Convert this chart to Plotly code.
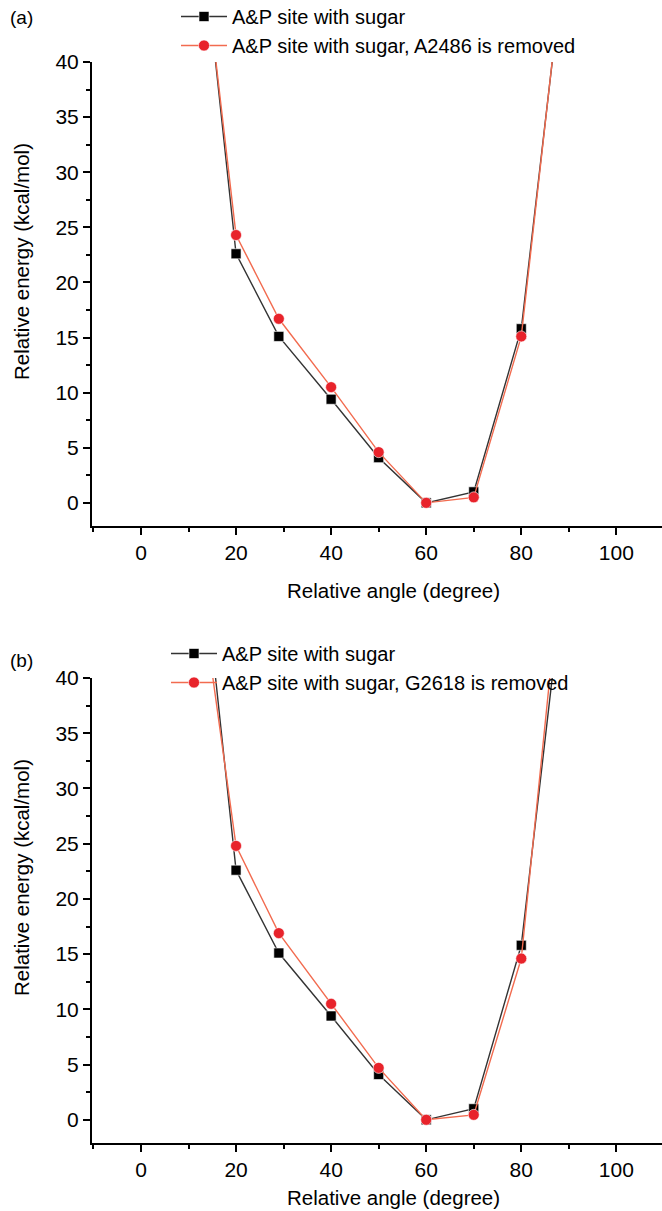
import plotly.graph_objects as go

# Relative angle (degree) of each scan point; the outer points lie above the 40 kcal/mol window
angle = [10, 20, 29, 40, 50, 60, 70, 80, 90]

# Relative energy (kcal/mol)
energy_sugar = [63.0, 22.6, 15.1, 9.4, 4.1, 0.0, 1.0, 15.8, 53.0]
energy_no_a2486 = [61.5, 24.3, 16.7, 10.5, 4.6, 0.0, 0.5, 15.1, 53.5]
energy_no_g2618 = [56.0, 24.8, 16.9, 10.5, 4.7, 0.0, 0.45, 14.6, 57.0]

name_sugar = "A&P site with sugar"
name_a = "A&P site with sugar, A2486 is removed"
name_b = "A&P site with sugar, G2618 is removed"

FONT = "Liberation Sans, Arial, sans-serif"
W, H = 662, 1211
BLACK_LINE = "#333333"
RED_LINE = "#f26b4f"
RED_MARK = "#e8232b"


def py(px):
    """Convert a pixel row (from the top) into paper coordinates."""
    return 1 - px / H


def px_x(px):
    return px / W


fig = go.Figure()

panels = [
    ("x", "y", "legend", energy_no_a2486, name_a),
    ("x2", "y2", "legend2", energy_no_g2618, name_b),
]
for xa, ya, leg, red_vals, red_name in panels:
    fig.add_trace(go.Scatter(
        x=angle, y=energy_sugar, name=name_sugar, xaxis=xa, yaxis=ya,
        legend=leg, mode="lines+markers",
        line=dict(color=BLACK_LINE, width=1.4),
        marker=dict(symbol="square", size=10, color="black",
                    line=dict(color="white", width=0.6)),
        cliponaxis=True,
    ))
    fig.add_trace(go.Scatter(
        x=angle, y=red_vals, name=red_name, xaxis=xa, yaxis=ya,
        legend=leg, mode="lines+markers",
        line=dict(color=RED_LINE, width=1.4),
        marker=dict(symbol="circle", size=11, color=RED_MARK,
                    line=dict(color="white", width=0.6)),
        cliponaxis=True,
    ))

axis_common = dict(
    showline=True, linecolor="black", linewidth=2,
    ticks="outside", ticklen=7, tickwidth=2, tickcolor="black",
    showgrid=False, zeroline=False, automargin=False,
    tickfont=dict(family=FONT, size=21, color="black"),
    fixedrange=True,
)
x_common = dict(axis_common, range=[-10.3, 109.6], tick0=0, dtick=20,
                minor=dict(ticks="outside", ticklen=4, tickwidth=2,
                           tickcolor="black", dtick=10, tick0=0))
y_common = dict(axis_common, range=[-2.1, 40], tick0=0, dtick=5,
                minor=dict(ticks="outside", ticklen=4, tickwidth=2,
                           tickcolor="black", dtick=2.5, tick0=0))

legend_common = dict(xanchor="left", yanchor="top", bgcolor="rgba(0,0,0,0)",
                     font=dict(family=FONT, size=20, color="black"),
                     itemwidth=46, tracegroupgap=0)

x_dom = [px_x(92), 1.0]
fig.update_layout(
    width=W, height=H,
    margin=dict(l=0, r=0, t=0, b=0, autoexpand=False),
    paper_bgcolor="white", plot_bgcolor="white",
    font=dict(family=FONT, color="black"),
    xaxis=dict(x_common, domain=x_dom, anchor="y"),
    yaxis=dict(y_common, domain=[py(526), py(62)], anchor="x"),
    xaxis2=dict(x_common, domain=x_dom, anchor="y2"),
    yaxis2=dict(y_common, domain=[py(1143), py(678)], anchor="x2"),
    legend=dict(legend_common, x=px_x(176), y=py(-3)),
    legend2=dict(legend_common, x=px_x(166), y=py(634)),
)

annotations = [
    dict(text="(a)", x=px_x(8), y=py(18), xanchor="left", yanchor="middle",
         font=dict(size=19)),
    dict(text="(b)", x=px_x(8), y=py(660), xanchor="left", yanchor="middle",
         font=dict(size=19)),
    dict(text="Relative angle (degree)", x=px_x(393), y=py(590),
         xanchor="center", yanchor="middle", font=dict(size=20.5)),
    dict(text="Relative angle (degree)", x=px_x(393), y=py(1197),
         xanchor="center", yanchor="middle", font=dict(size=20.5)),
    dict(text="Relative energy (kcal/mol)", x=px_x(21), y=py(262),
         textangle=-90, xanchor="center", yanchor="middle", font=dict(size=20.5)),
    dict(text="Relative energy (kcal/mol)", x=px_x(21), y=py(878),
         textangle=-90, xanchor="center", yanchor="middle", font=dict(size=20.5)),
]
for a in annotations:
    a.update(xref="paper", yref="paper", showarrow=False)
    a["font"] = dict(family=FONT, color="black", **a["font"])
fig.update_layout(annotations=annotations)

fig.write_html("out.html", config={"displayModeBar": False})
